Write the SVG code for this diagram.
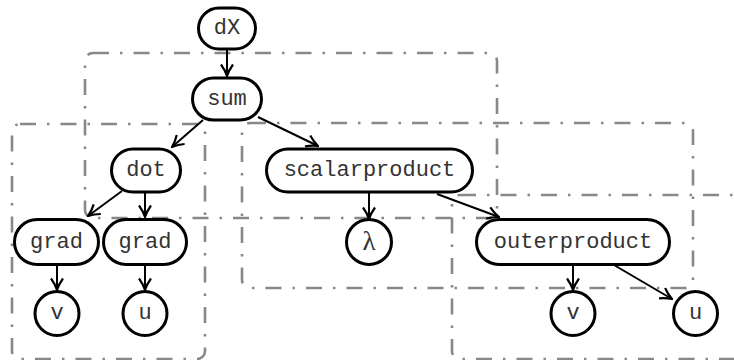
<svg xmlns="http://www.w3.org/2000/svg" width="734" height="360" viewBox="0 0 734 360">
<defs>
<style>
.box{fill:none;stroke:#888;stroke-width:2.6;stroke-dasharray:16 11 2.5 11}
.n{fill:#fff;stroke:#000;stroke-width:3}
.t{font-family:"Liberation Mono","DejaVu Sans Mono",monospace;font-size:22px;fill:#333;text-anchor:middle;dominant-baseline:central}
.g{font-family:"Liberation Serif","DejaVu Serif",serif;font-size:27px}
.e{fill:none;stroke:#000;stroke-width:2;marker-end:url(#ah)}
</style>
<marker id="ah" viewBox="0 0 14 14" refX="13" refY="7" markerWidth="14" markerHeight="14" markerUnits="userSpaceOnUse" orient="auto">
<path d="M1.5,1 Q7,5 13,7 Q7,9 1.5,13" fill="none" stroke="#000" stroke-width="2.2"/>
</marker>
</defs>
<g id="boxes">
<rect class="box" x="85" y="53" width="412" height="165" rx="8"/>
<rect class="box" x="12" y="124" width="193" height="235" rx="8"/>
<rect class="box" x="242" y="123" width="451" height="165" rx="8"/>
<rect class="box" x="452" y="195" width="310" height="164" rx="8"/>
</g>
<g id="connectors">
<line class="e" x1="227" y1="49" x2="227" y2="76"/>
<line class="e" x1="203" y1="120" x2="172" y2="147"/>
<line class="e" x1="258" y1="117" x2="318" y2="146"/>
<line class="e" x1="122" y1="191" x2="88" y2="216"/>
<line class="e" x1="145" y1="193" x2="145" y2="217"/>
<line class="e" x1="57" y1="265" x2="57" y2="290"/>
<line class="e" x1="145" y1="265" x2="145" y2="290"/>
<line class="e" x1="369" y1="193" x2="369" y2="219"/>
<line class="e" x1="437" y1="194" x2="499" y2="217"/>
<line class="e" x1="573" y1="265" x2="573" y2="290"/>
<line class="e" x1="614" y1="265" x2="672" y2="299"/>
</g>
<g id="dX"><rect class="n" x="198.5" y="8" width="57" height="41" rx="20.5"/><text class="t" x="227" y="28.5">dX</text></g>
<g id="sum"><rect class="n" x="192.5" y="78" width="69" height="42" rx="21"/><text class="t" x="227" y="99">sum</text></g>
<g id="dot"><rect class="n" x="111.5" y="149" width="69" height="43" rx="21.5"/><text class="t" x="146" y="170.5">dot</text></g>
<g id="scalarproduct"><rect class="n" x="266.5" y="149" width="206" height="43" rx="21.5"/><text class="t" x="369.5" y="170.5">scalarproduct</text></g>
<g id="grad1"><rect class="n" x="14.5" y="219.5" width="84" height="45" rx="22.5"/><text class="t" x="56.5" y="242">grad</text></g>
<g id="grad2"><rect class="n" x="103.5" y="219.5" width="83" height="45" rx="22.5"/><text class="t" x="145" y="242">grad</text></g>
<g id="lambda"><circle class="n" cx="369" cy="242" r="22.5"/><text class="t g" x="369" y="241">λ</text></g>
<g id="outerproduct"><rect class="n" x="476.5" y="219.5" width="193" height="45" rx="22.5"/><text class="t" x="573" y="242">outerproduct</text></g>
<g id="v1"><circle class="n" cx="57" cy="313.5" r="22"/><text class="t" x="57" y="313.5">v</text></g>
<g id="u1"><circle class="n" cx="145" cy="313.5" r="22"/><text class="t" x="145" y="313.5">u</text></g>
<g id="v2"><circle class="n" cx="573" cy="313.5" r="22"/><text class="t" x="573" y="313.5">v</text></g>
<g id="u2"><circle class="n" cx="695.5" cy="313.5" r="22"/><text class="t" x="695.5" y="313.5">u</text></g>
</svg>
